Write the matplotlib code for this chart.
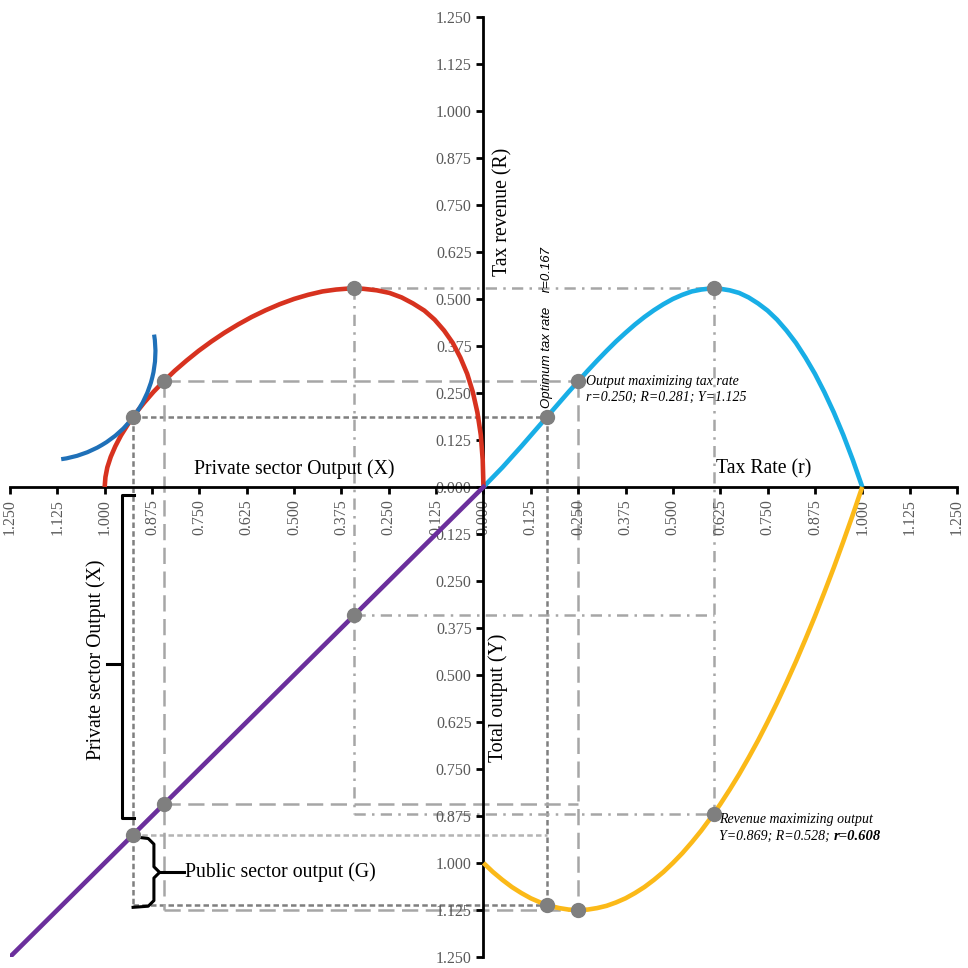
"""
Four-quadrant diagram: tax rate, tax revenue, private and total output.
"""
import numpy as np
import matplotlib
matplotlib.use('Agg')
import matplotlib.pyplot as plt
from matplotlib.patches import Arc
from matplotlib.ticker import FuncFormatter

# tax rate grid with total output (Y) and tax revenue (R) at each rate
tax_rate = [0.000, 0.025, 0.050, 0.075, 0.100, 0.125, 0.150, 0.175, 0.200, 0.225,
            0.250, 0.275, 0.300, 0.325, 0.350, 0.375, 0.400, 0.425, 0.450, 0.475,
            0.500, 0.525, 0.550, 0.575, 0.600, 0.625, 0.650, 0.675, 0.700, 0.725,
            0.750, 0.775, 0.800, 0.825, 0.850, 0.875, 0.900, 0.925, 0.950, 0.975,
            1.000]
total_output = [1.000, 1.024, 1.045, 1.064, 1.080, 1.094, 1.105, 1.114, 1.120, 1.124,
                1.125, 1.124, 1.120, 1.114, 1.105, 1.094, 1.080, 1.064, 1.045, 1.024,
                1.000, 0.974, 0.945, 0.914, 0.880, 0.844, 0.805, 0.764, 0.720, 0.674,
                0.625, 0.574, 0.520, 0.464, 0.405, 0.344, 0.280, 0.214, 0.145, 0.074,
                0.000]
tax_revenue = [0.000, 0.026, 0.052, 0.080, 0.108, 0.137, 0.166, 0.195, 0.224, 0.253,
               0.281, 0.309, 0.336, 0.362, 0.387, 0.410, 0.432, 0.452, 0.470, 0.486,
               0.500, 0.511, 0.520, 0.525, 0.528, 0.527, 0.523, 0.516, 0.504, 0.488,
               0.469, 0.445, 0.416, 0.383, 0.344, 0.301, 0.252, 0.198, 0.138, 0.072,
               0.000]

# optimum, output-maximizing and revenue-maximizing tax rates
key_rate = [0.167, 0.250, 0.608]
key_output = [1.111, 1.125, 0.869]
key_revenue = [0.186, 0.281, 0.528]

tick_values = [-1.250, -1.125, -1.000, -0.875, -0.750, -0.625, -0.500, -0.375,
               -0.250, -0.125, 0.000, 0.125, 0.250, 0.375, 0.500, 0.625, 0.750,
               0.875, 1.000, 1.125, 1.250]

r = np.array(tax_rate)
Y = np.array(total_output)
R = np.array(tax_revenue)
X = Y - R                      # private sector output
kr = np.array(key_rate)
kY = np.array(key_output)
kR = np.array(key_revenue)
kX = kY - kR

plt.rcParams['font.family'] = ['Liberation Serif', 'DejaVu Serif']

colors = {
    'revenue': '#18aee6',
    'private': '#d7321f',
    'output': '#fbb918',
    'diag': '#6b2f9c',
    'indiff': '#1f70b8',
    'dot': '#7f7f7f',
    'tick': '#595959',
}
title_size = 14.2

fig = plt.figure(figsize=(9.68, 9.68), dpi=100)
ax = fig.add_axes([0.0103, 0.0114, 0.9783, 0.9711])
ax.set_xlim(-1.25, 1.25)
ax.set_ylim(-1.25, 1.25)

# axes crossing at the origin
for side in ['top', 'right']:
    ax.spines[side].set_visible(False)
for side in ['left', 'bottom']:
    ax.spines[side].set_position(('data', 0))
    ax.spines[side].set_linewidth(2)
ax.set_xticks(tick_values)
ax.set_yticks(tick_values)
fmt = FuncFormatter(lambda v, pos: f'{abs(v):.3f}')
ax.xaxis.set_major_formatter(fmt)
ax.yaxis.set_major_formatter(fmt)
ax.tick_params(axis='both', direction='out', length=5, width=2,
               labelsize=11.5, labelcolor=colors['tick'])
ax.tick_params(axis='x', labelrotation=90)

# guide lines for each key tax rate
guide_styles = [
    dict(color='#7f7f7f', linestyle=(0, (2.2, 1.3)), lw=1.8),
    dict(color='#a6a6a6', linestyle=(0, (6.5, 3)), lw=1.8),
    dict(color='#a6a6a6', linestyle=(0, (4.5, 2.5, 1, 2.5)), lw=1.8),
]
for i in range(3):
    st = guide_styles[i]
    ax.plot([-kX[i], kr[i]], [kR[i], kR[i]], zorder=1, **st)
    ax.plot([-kX[i], -kX[i]], [kR[i], -kY[i]], zorder=1, **st)
    ax.plot([-kX[i], kr[i]], [-kY[i], -kY[i]], zorder=1, **st)
    ax.plot([kr[i], kr[i]], [kR[i], -kY[i]], zorder=1, **st)
    st_mid = dict(st)
    if i == 0:
        st_mid['color'] = '#b4b4b4'
    ax.plot([-kX[i], kr[i]], [-kX[i], -kX[i]], zorder=1, **st_mid)

# curves in the four quadrants
ax.plot(r, R, color=colors['revenue'], lw=3.3, zorder=3, solid_capstyle='butt')
ax.plot(-X, R, color=colors['private'], lw=3.3, zorder=3, solid_capstyle='butt')
ax.plot(r, -Y, color=colors['output'], lw=3.3, zorder=3, solid_capstyle='butt')
ax.plot([0, -1.25], [0, -1.25], color=colors['diag'], lw=3.3, zorder=3)
ax.add_patch(Arc((-1.155, 0.36), 0.578, 0.578, theta1=-82, theta2=9,
                 color=colors['indiff'], lw=3, zorder=3))

# key points
dot = dict(marker='o', ms=10, color=colors['dot'], ls='none', zorder=5)
ax.plot(-kX, kR, **dot)
ax.plot(kr, kR, **dot)
ax.plot(-kX, -kX, **dot)
ax.plot(kr, -kY, **dot)

# axis titles
ax.text(0.050, 0.732, 'Tax revenue (R)', rotation=90, ha='center', va='center',
        fontsize=title_size)
ax.text(0.040, -0.56, 'Total output (Y)', rotation=90, ha='center', va='center',
        fontsize=title_size)
ax.text(-0.50, 0.048, 'Private sector Output (X)', ha='center', va='center',
        fontsize=title_size)
ax.text(0.74, 0.048, 'Tax Rate (r)', ha='center', va='center', fontsize=title_size)

# brackets splitting total output into private and public parts
bk = dict(color='black', lw=2.2, zorder=4, solid_joinstyle='round')
ax.plot([-0.922, -0.954, -0.954, -0.922], [-0.021, -0.021, -0.880, -0.880], **bk)
ax.plot([-0.954, -0.995], [-0.47, -0.47], **bk)
ax.text(-1.022, -0.46, 'Private sector Output (X)', rotation=90, ha='center',
        va='center', fontsize=title_size)
ax.plot([-0.925, -0.885, -0.870, -0.870, -0.855, -0.870, -0.870, -0.885, -0.925],
        [-0.930, -0.935, -0.950, -1.010, -1.025, -1.040, -1.100, -1.115, -1.118], **bk)
ax.plot([-0.855, -0.79], [-1.025, -1.025], **bk)
ax.text(-0.787, -1.025, 'Public sector output (G)', ha='left', va='center',
        fontsize=title_size)

# annotations for the key rates
ax.text(kr[0], 0.21, f'Optimum tax rate    r={key_rate[0]:.3f}', rotation=90,
        ha='center', va='bottom', fontsize=9.5, style='italic',
        family=['Liberation Sans', 'DejaVu Sans'], zorder=6)
ax.text(0.270, 0.298,
        f'Output maximizing tax rate\nr={key_rate[1]:.3f}; R={key_revenue[1]:.3f}; '
        f'Y={key_output[1]:.3f}',
        ha='left', va='top', fontsize=10, style='italic', linespacing=1.3, zorder=6)
ax.text(0.623, -0.868, 'Revenue maximizing output', ha='left', va='top',
        fontsize=10, style='italic', zorder=6)
t2 = ax.text(0.623, -0.912, f'Y={key_output[2]:.3f}; R={key_revenue[2]:.3f}; ',
             ha='left', va='top', fontsize=10, style='italic', zorder=6)
ax.annotate(f'r={key_rate[2]:.3f}', xy=(1, 0), xycoords=t2, ha='left', va='bottom',
            fontsize=10.5, style='italic', fontweight='bold', zorder=6)

fig.savefig('out.png', dpi=100)
